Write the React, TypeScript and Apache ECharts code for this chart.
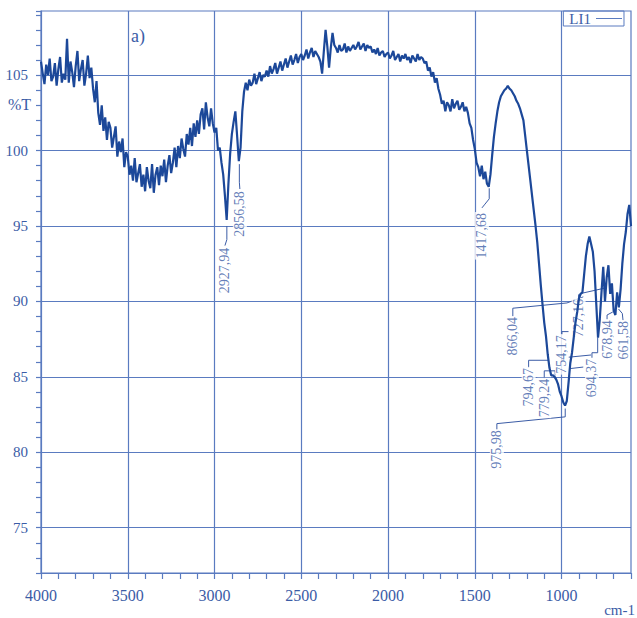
import React, { useEffect, useRef } from "react";
import * as echarts from "echarts";

// Spectrum sampling: wavenumbers from 4000 cm-1 downward, every 10 cm-1
const WAVENUMBER_START = 4000;
const WAVENUMBER_STEP = 10;

// %T, one row per 100 cm-1 (4000 → 610), then 600
const transmittance = [
  105.9, 105.1, 104.4, 105.7, 105.0, 106.1, 104.6, 104.9, 105.8, 104.3,
  105.4, 106.2, 104.5, 105.1, 104.7, 107.4, 104.5, 105.9, 105.2, 104.2,
  105.6, 106.6, 104.6, 105.4, 106.0, 104.3, 105.1, 106.3, 104.8, 105.5,
  104.1, 103.2, 104.6, 102.5, 101.7, 103.0, 101.3, 102.2, 100.7, 101.9,
  101.5, 100.2, 100.9, 101.6, 99.6, 100.6, 99.9, 100.8, 98.9, 99.9,
  99.6, 98.4, 99.0, 98.0, 99.5, 97.9, 98.5, 99.1, 97.6, 98.4,
  97.3, 98.9, 98.0, 97.5, 99.1, 97.2, 98.4, 98.9, 97.7, 99.0,
  98.3, 99.4, 97.9, 99.0, 99.7, 98.5, 99.2, 100.2, 98.9, 100.3,
  99.5, 100.8, 100.1, 99.6, 101.1, 100.4, 101.5, 100.3, 101.8, 100.9,
  102.0, 101.1, 102.4, 102.8, 101.4, 103.2, 102.2, 101.6, 102.8, 101.8,
  101.2, 101.5, 100.0, 100.2, 99.2, 98.4, 97.0, 95.4, 97.8, 99.8,
  101.1, 101.9, 102.6, 101.0, 99.3, 100.2, 102.6, 103.9, 104.5, 104.0,
  104.7, 104.3, 104.5, 105.1, 104.4, 104.8, 105.2, 104.6, 105.0, 104.9,
  105.3, 104.9, 105.6, 105.1, 105.4, 105.8, 105.1, 105.5, 105.9, 105.3,
  105.7, 106.1, 105.5, 105.9, 106.3, 105.7, 106.0, 106.4, 105.8, 106.2,
  106.4, 106.0, 106.3, 106.7, 106.1, 106.5, 106.8, 106.2, 106.6, 106.4,
  106.2, 105.9, 105.1, 106.6, 108.0, 106.9, 105.5, 106.8, 107.8, 107.0,
  106.8, 106.5, 107.0, 106.6, 106.7, 107.1, 106.5, 106.9, 106.6, 106.8,
  107.0, 106.7, 106.9, 107.2, 106.7, 106.9, 107.1, 106.6, 107.0, 106.8,
  106.9, 106.5, 106.7, 106.4, 106.8, 106.3, 106.5, 106.6, 106.2, 106.4,
  106.5, 106.1, 106.3, 106.6, 106.0, 106.2, 106.4, 105.9, 106.3, 106.1,
  106.4, 106.0, 106.2, 105.8, 106.3, 106.1, 105.9, 106.4, 106.0, 106.2,
  106.1, 105.8, 105.9, 105.3, 105.5, 104.9, 105.2, 104.5, 104.8, 104.1,
  103.7, 103.1, 103.3, 102.6, 103.2, 103.0, 102.6, 103.4, 102.8, 103.1,
  103.3, 102.7, 102.9, 103.2, 102.6, 102.9, 102.5, 101.8, 101.5, 100.7,
  100.1, 99.2, 98.9, 98.3, 99.0, 98.1, 98.6, 97.8, 97.6, 98.4,
  99.7, 100.9, 101.8, 102.6, 103.2, 103.6, 103.8, 104.0, 104.1, 104.3,
  104.1, 104.0, 103.8, 103.6, 103.3, 103.1, 102.8, 102.4, 102.0, 101.0,
  100.0, 99.0, 98.0, 97.0, 96.0, 95.0, 93.9, 92.5, 91.1, 89.8,
  88.6, 87.7, 86.5, 85.6, 85.1, 85.1, 85.0, 84.8, 84.5, 84.0,
  83.7, 83.3, 83.1, 83.4, 84.6, 85.9, 86.6, 87.6, 88.6, 89.3,
  90.2, 90.5, 90.6, 91.8, 93.0, 93.8, 94.3, 93.8, 93.3, 92.0,
  89.8, 87.6, 88.8, 90.6, 92.3, 90.0, 91.6, 92.4, 90.5, 91.2,
  89.4, 89.1, 90.6, 89.6, 90.8, 92.5, 93.8, 94.6, 95.8, 96.4,
  95.0,
];

// Axis ranges and labelled ticks
const X_MIN = 600;
const X_MAX = 4000;
const Y_MIN = 72;
const Y_MAX = 109.25;
const xGridValues = [3500, 3000, 2500, 2000, 1500, 1000];
const yGridValues = [75, 80, 85, 90, 95, 100, 105];

// Peak annotations: label text, label centre (wavenumber, %T), leader polyline
const peakLabels = [
  "2927,94", "2856,58", "1417,68", "975,98", "866,04", "794,67",
  "779,24", "754,17", "727,16", "694,37", "678,94", "661,58",
];
const peakLabelX = [2940, 2854, 1459, 1373, 1281, 1190, 1100, 998, 902, 825, 738, 646];
const peakLabelY = [92.05, 95.8, 94.35, 80.18, 87.69, 84.32, 83.6, 86.49, 88.9, 84.93, 87.48, 87.42];
const leaderLines: number[][][] = [
  [[2929, 95.0], [2929, 94.1], [2940, 93.7]],
  [[2857, 99.1], [2857, 97.9], [2854, 97.45]],
  [[1417, 97.5], [1417, 96.8], [1445, 96.4], [1459, 96.2]],
  [[1373, 81.5], [1373, 81.9], [979, 82.35], [979, 82.9]],
  [[1281, 89.0], [1281, 89.55], [969, 89.9], [875, 90.3]],
  [[1190, 85.6], [1190, 86.1], [1075, 86.1], [1075, 85.8]],
  [[1100, 84.9], [1100, 85.4], [1037, 85.4], [1037, 85.1]],
  [[998, 87.8], [998, 88.0], [960, 88.0]],
  [[902, 90.2], [902, 90.45], [880, 90.55], [745, 90.9]],
  [[825, 86.25], [825, 86.6], [792, 86.6], [792, 87.6]],
  [[738, 88.8], [738, 89.1], [705, 89.3]],
  [[646, 88.75], [650, 89.2], [672, 89.5]],
  [[963, 86.3], [830, 86.45]],
  [[950, 85.55], [875, 85.65]],
];

const AXIS_COLOR = "#5a7bc0";
const TEXT_COLOR = "#3b5ca6";
const LINE_COLOR = "#1c4899";
const FONT = "Liberation Serif";

export default function App() {
  const ref = useRef<HTMLDivElement>(null);

  useEffect(() => {
    document.body.style.margin = "0";
    if (!ref.current) return;
    const chart = echarts.init(ref.current, undefined, { renderer: "svg" });

    const spectrum = transmittance.map((t, i) => [WAVENUMBER_START - i * WAVENUMBER_STEP, t]);

    const option: any = {
      animation: false,
      backgroundColor: "#ffffff",
      grid: {
        left: 41,
        right: 6,
        top: 11,
        bottom: 45,
        show: true,
        borderColor: AXIS_COLOR,
        borderWidth: 1.2,
        backgroundColor: "transparent",
      },
      legend: {
        data: ["LI1"],
        right: 13,
        top: 11,
        align: "right",
        icon: "rect",
        itemWidth: 26,
        itemHeight: 1,
        padding: [0, 2, 0, 6],
        borderColor: AXIS_COLOR,
        borderWidth: 1,
        itemStyle: { color: AXIS_COLOR },
        textStyle: { fontFamily: FONT, fontSize: 15, color: TEXT_COLOR, lineHeight: 14 },
        selectedMode: false,
      },
      xAxis: {
        type: "value",
        inverse: true,
        min: X_MIN,
        max: X_MAX,
        interval: 100,
        axisLine: { show: true, lineStyle: { color: AXIS_COLOR, width: 1.2 } },
        axisTick: { show: true, inside: false, length: 6, lineStyle: { color: AXIS_COLOR, width: 1.2 } },
        axisLabel: {
          formatter: (v: number) => (Math.abs(v % 500) < 1e-6 ? String(v) : ""),
          margin: 14,
          fontSize: 16,
          fontFamily: FONT,
          color: TEXT_COLOR,
        },
        splitLine: { show: false },
      },
      yAxis: {
        type: "value",
        min: Y_MIN,
        max: Y_MAX,
        interval: 1,
        axisLine: { show: true, lineStyle: { color: AXIS_COLOR, width: 1.2 } },
        axisTick: { show: true, inside: false, length: 5, lineStyle: { color: AXIS_COLOR, width: 1.2 } },
        axisLabel: {
          formatter: (v: number) => (Math.abs(v % 5) < 1e-6 ? String(v) : ""),
          margin: 13,
          fontSize: 15,
          fontFamily: FONT,
          color: TEXT_COLOR,
        },
        splitLine: { show: false },
      },
      graphic: [
        { type: "text", left: 8, top: 96, style: { text: "%T", font: `16px "${FONT}"`, fill: TEXT_COLOR } },
        { type: "text", left: 131, top: 27, style: { text: "a)", font: `18px "${FONT}"`, fill: TEXT_COLOR } },
        { type: "text", right: 2, top: 602, style: { text: "cm-1", font: `15px "${FONT}"`, fill: TEXT_COLOR } },
      ],
      series: [
        {
          name: "gridlines",
          type: "line",
          data: [],
          z: 1,
          silent: true,
          markLine: {
            silent: true,
            symbol: "none",
            z: 1,
            label: { show: false },
            emphasis: { disabled: true },
            lineStyle: { color: AXIS_COLOR, type: "solid", width: 1.2 },
            data: [
              ...yGridValues.map((y) => ({ yAxis: y })),
              ...xGridValues.map((x) => ({ xAxis: x })),
            ],
          },
        },
        ...leaderLines.map((pts, i) => ({
          name: "leader" + i,
          type: "line",
          data: pts,
          symbol: "none",
          silent: true,
          z: 2,
          lineStyle: { color: TEXT_COLOR, width: 1 },
        })),
        {
          name: "peaks",
          type: "scatter",
          data: peakLabels.map((t, i) => ({ name: t, value: [peakLabelX[i], peakLabelY[i]] })),
          symbolSize: 1,
          silent: true,
          z: 2,
          itemStyle: { color: "rgba(0,0,0,0)" },
          label: {
            show: true,
            position: "inside",
            rotate: 90,
            formatter: "{b}",
            fontSize: 14,
            fontFamily: FONT,
            color: TEXT_COLOR,
            backgroundColor: "#ffffff",
            padding: [0, 1],
          },
        },
        {
          name: "LI1",
          type: "line",
          data: spectrum,
          symbol: "none",
          showSymbol: false,
          z: 3,
          itemStyle: { color: LINE_COLOR },
          lineStyle: { color: LINE_COLOR, width: 2.2 },
        },
      ],
    };

    chart.setOption(option);
    return () => chart.dispose();
  }, []);

  return <div ref={ref} style={{ width: 637, height: 618 }} />;
}
